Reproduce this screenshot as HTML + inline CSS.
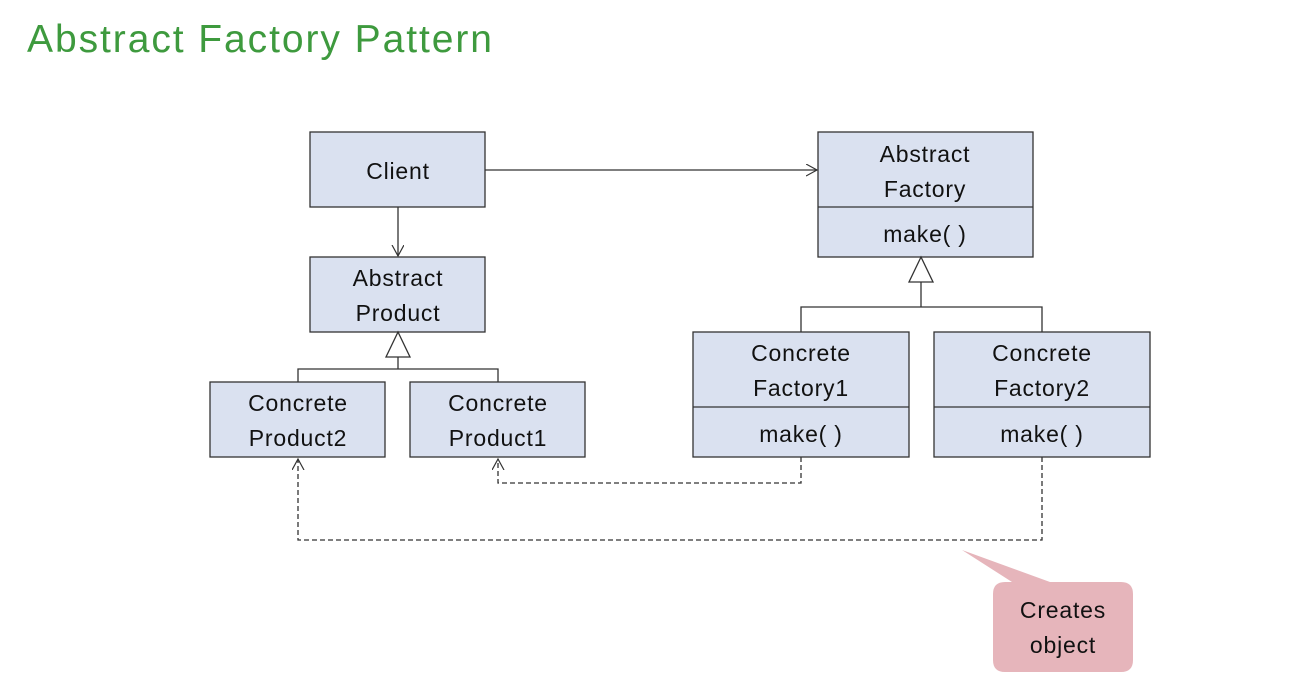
<!DOCTYPE html>
<html><head><meta charset="utf-8"><style>
html,body{margin:0;padding:0;background:#fff;width:1294px;height:686px;overflow:hidden}
svg{display:block}
text{font-family:"Liberation Sans",sans-serif}
</style></head><body>
<svg width="1294" height="686" viewBox="0 0 1294 686">
<defs>
<marker id="oa" markerWidth="14" markerHeight="14" refX="11" refY="6" orient="auto" markerUnits="userSpaceOnUse">
<path d="M0,0 L11,6 L0,12" fill="none" stroke="#333" stroke-width="1.2"/>
</marker>
</defs>
<text x="27" y="52" font-size="39" fill="#3e9a3e" textLength="465" lengthAdjust="spacing">Abstract Factory Pattern</text>
<g fill="#dae1f0" stroke="#333" stroke-width="1.3">
<rect x="310" y="132" width="175" height="75"/>
<rect x="818" y="132" width="215" height="125"/>
<rect x="310" y="257" width="175" height="75"/>
<rect x="210" y="382" width="175" height="75"/>
<rect x="410" y="382" width="175" height="75"/>
<rect x="693" y="332" width="216" height="125"/>
<rect x="934" y="332" width="216" height="125"/>
</g>
<g stroke="#333" stroke-width="1.3" fill="none">
<line x1="818" y1="207" x2="1033" y2="207"/>
<line x1="693" y1="407" x2="909" y2="407"/>
<line x1="934" y1="407" x2="1150" y2="407"/>
<line x1="485" y1="170" x2="817" y2="170" marker-end="url(#oa)"/>
<line x1="398" y1="207" x2="398" y2="256" marker-end="url(#oa)"/>
<path d="M398,332 L386,357 L410,357 Z" fill="#fff"/>
<path d="M398,357 V369 M298,382 V369 H498 V382"/>
<path d="M921,257 L909,282 L933,282 Z" fill="#fff"/>
<path d="M921,282 V307 M801,332 V307 H1042 V332"/>
<g stroke-dasharray="5,3">
<path d="M801,457 V483 H498 V459" marker-end="url(#oa)"/>
<path d="M1042,457 V540 H298 V459" marker-end="url(#oa)"/>
</g>
</g>
<path d="M1005,582 Q993,582 993,594 V660 Q993,672 1005,672 H1121 Q1133,672 1133,660 V594 Q1133,582 1121,582 H1050 L962,550 L1012,582 Z" fill="#e6b5bb"/>
<g font-size="23" fill="#111" text-anchor="middle" letter-spacing="0.8">
<text x="398" y="179">Client</text>
<text x="925" y="162">Abstract</text>
<text x="925" y="197">Factory</text>
<text x="925" y="242">make( )</text>
<text x="398" y="286">Abstract</text>
<text x="398" y="321">Product</text>
<text x="298" y="411">Concrete</text>
<text x="298" y="446">Product2</text>
<text x="498" y="411">Concrete</text>
<text x="498" y="446">Product1</text>
<text x="801" y="361">Concrete</text>
<text x="801" y="396">Factory1</text>
<text x="801" y="442">make( )</text>
<text x="1042" y="361">Concrete</text>
<text x="1042" y="396">Factory2</text>
<text x="1042" y="442">make( )</text>
<text x="1063" y="618">Creates</text>
<text x="1063" y="653">object</text>
</g>
</svg>
</body></html>
